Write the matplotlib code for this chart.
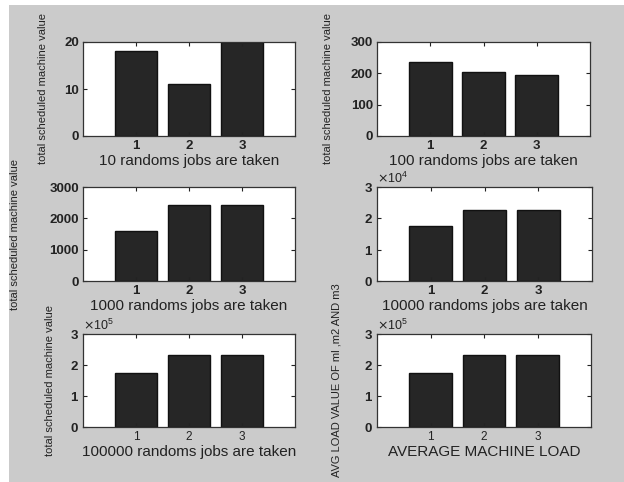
import matplotlib
matplotlib.use("Agg")
import matplotlib.pyplot as plt
from matplotlib.patches import Rectangle

categories = [1, 2, 3]
vals_10 = [18, 11, 20]
vals_100 = [236, 203, 196]
vals_1000 = [1610, 2410, 2410]
vals_10000 = [17400, 22600, 22600]
vals_100000 = [173000, 233000, 233000]
vals_avg = [173000, 233000, 233000]

yticks_10 = [0, 10, 20]
yticks_100 = [0, 100, 200, 300]
yticks_1000 = [0, 1000, 2000, 3000]
yticks_10000 = [0, 10000, 20000, 30000]
yticks_100000 = [0, 100000, 200000, 300000]

xlabels = ["10 randoms jobs are taken", "100 randoms jobs are taken",
           "1000 randoms jobs are taken", "10000 randoms jobs are taken",
           "100000 randoms jobs are taken", "AVERAGE MACHINE LOAD"]
ylabels = ["total scheduled machine value", "total scheduled machine value",
           "total scheduled machine value", "",
           "total scheduled machine value", "AVG LOAD VALUE OF ml ,m2 AND m3"]

plt.rcParams['font.family'] = ['Liberation Sans', 'DejaVu Sans']

W, H = 624, 482
fig = plt.figure(figsize=(W / 100, H / 100), dpi=100, facecolor='white')
fig.patches.append(Rectangle((9 / W, 0), 1 - 9 / W, (H - 5) / H,
                             transform=fig.transFigure, facecolor='#cbcbcb',
                             edgecolor='none', zorder=-10))

# axes boxes in pixels: left, top, right, bottom
boxes = [(83, 42, 295, 136), (377, 42, 590, 136),
         (83, 187, 295, 281), (377, 187, 592, 281),
         (83, 334, 295, 427), (377, 334, 591, 427)]
data = [vals_10, vals_100, vals_1000, vals_10000, vals_100000, vals_avg]
yticks = [yticks_10, yticks_100, yticks_1000, yticks_10000, yticks_100000, yticks_100000]
sci = [False, False, False, True, True, True]
ylab_x = [-0.165, -0.205, -0.295, -0.16, -0.13, -0.165]

for i, (l, t, r, b) in enumerate(boxes):
    ax = fig.add_axes([l / W, (H - b) / H, (r - l) / W, (b - t) / H])
    ax.set_zorder(1)
    ax.set_facecolor('white')
    ax.bar(categories, data[i], width=0.8, color='#262626', edgecolor='#111111', linewidth=1)
    ax.set_xlim(0, 4)
    ax.set_ylim(yticks[i][0], yticks[i][-1])
    ax.set_xticks(categories)
    ax.set_yticks(yticks[i])
    ax.tick_params(direction='in', length=3, width=0.8, top=True, right=True,
                   colors='#222222', labelsize=9.5, pad=3)
    weight = 'bold' if i < 4 else 'normal'
    for lab in ax.get_yticklabels():
        lab.set_fontweight('bold')
    for lab in ax.get_xticklabels():
        lab.set_fontweight(weight)
        if i >= 4:
            lab.set_fontsize(8.5)
    if sci[i]:
        ax.ticklabel_format(axis='y', style='sci', scilimits=(0, 0), useMathText=True)
        ax.yaxis.get_offset_text().set_fontsize(9)
    for s in ax.spines.values():
        s.set_linewidth(0.9)
        s.set_color('#333333')
    ax.set_xlabel(xlabels[i], fontsize=11, color='#222222', labelpad=1)
    if ylabels[i]:
        ax.set_ylabel(ylabels[i], fontsize=8, color='#222222')
        ax.yaxis.set_label_coords(ylab_x[i], 0.5)

fig.savefig("out.png", dpi=100, facecolor=fig.get_facecolor())
